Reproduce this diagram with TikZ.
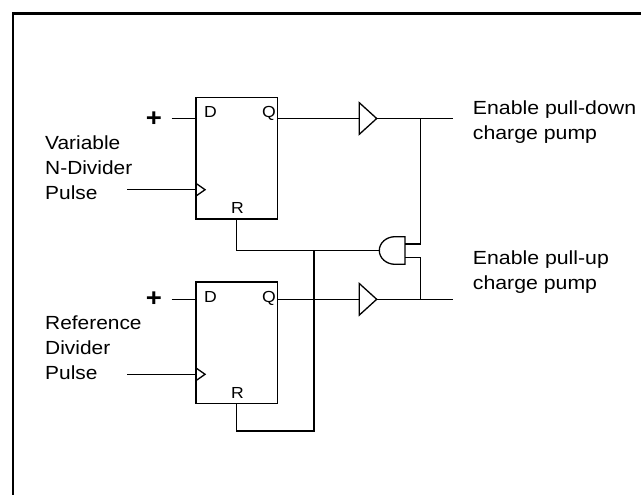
\documentclass[tikz,border=0pt]{standalone}
\usepackage{fontspec}
\setmainfont{Liberation Sans}
\newfontfamily\lbl[FakeStretch=1.1]{Liberation Sans}
\newfontfamily\lblr[FakeStretch=1.12]{Liberation Sans}
\begin{document}
\begin{tikzpicture}[x=1pt,y=-1pt,
  wire/.style={line width=1.3pt},
  frame/.style={line width=2.4pt},
  ffbox/.style={draw,line width=1.7pt,minimum width=81.3pt,minimum height=121.5pt,inner sep=0pt,outer sep=0pt},
  lab/.style={font=\lbl\fontsize{19}{25}\selectfont,anchor=base west,inner sep=0pt},
  labr/.style={font=\lblr\fontsize{19}{25}\selectfont,anchor=base west,inner sep=0pt},
  pinlab/.style={font=\lbl\fontsize{16}{18}\selectfont,inner sep=0pt},
  plus/.style={font=\lbl\bfseries\fontsize{25}{25}\selectfont,inner sep=0pt}]
\useasboundingbox (0,0) rectangle (641,495);
\draw[frame] (12.8,500) -- (12.8,13.5) -- (650,13.5);

% flip-flops
\node[ffbox] (ff1) at (236.7,158.3) {};
\node[ffbox] (ff2) at (236.7,342.8) {};
\node[pinlab,anchor=base west] (d1) at (204,117.3) {D};
\node[pinlab,anchor=base east] (q1) at (276,117.3) {Q};
\node[pinlab,anchor=base] (r1) at (237.5,213.3) {R};
\node[pinlab,anchor=base west] (d2) at (204,302.3) {D};
\node[pinlab,anchor=base east] (q2) at (276,302.3) {Q};
\node[pinlab,anchor=base] (r2) at (237.5,398.3) {R};

% inputs
\node[plus] (p1) at (154,119) {+};
\node[plus] (p2) at (154,299.5) {+};
\coordinate (din1) at (171.7,118.5);
\coordinate (din2) at (171.7,299.3);
\draw[wire] (din1) -- (din1 -| ff1.west);
\draw[wire] (din2) -- (din2 -| ff2.west);
\coordinate (clk1) at (127,189.7);
\coordinate (clk2) at (127,374.3);
\draw[wire] (clk1) -- (clk1 -| ff1.west);
\draw[wire] (clk2) -- (clk2 -| ff2.west);
\draw[wire] (clk1 -| ff1.west) ++(0,-6.3) -- ++(9,6.3) -- ++(-9,6.3);
\draw[wire] (clk2 -| ff2.west) ++(0,-6.3) -- ++(9,6.3) -- ++(-9,6.3);

% input labels
\node[lab] (v1) at (45,149.5) {Variable};
\node[lab] (v2) at (45,174.5) {N-Divider};
\node[lab] (v3) at (45,199.5) {Pulse};
\node[lab] (f1) at (45,329) {Reference};
\node[lab] (f2) at (45,354) {Divider};
\node[lab] (f3) at (45,379) {Pulse};

% buffers
\coordinate (b1in) at (359.3,118.5);
\coordinate (b1out) at (376.7,118.5);
\coordinate (b2in) at (359.3,299.3);
\coordinate (b2out) at (376.7,299.3);
\draw[wire] (b1in) ++(0,-15.8) -- (b1out) -- ++(-17.4,15.8) -- cycle;
\draw[wire] (b2in) ++(0,-15.8) -- (b2out) -- ++(-17.4,15.8) -- cycle;
\draw[wire] (ff1.east |- b1in) -- (b1in);
\draw[wire] (ff2.east |- b2in) -- (b2in);
\coordinate (o1) at (452.6,118.5);
\coordinate (o2) at (452.6,299.3);
\draw[wire] (b1out) -- (o1);
\draw[wire] (b2out) -- (o2);

% AND gate (facing left)
\coordinate (andtip) at (379.3,250.5);
\coordinate (andin1) at (405,244);
\coordinate (andin2) at (405,257.7);
\draw[wire] (405,236.7) -- (395,236.7)
  arc[start angle=270,end angle=90,x radius=15.7,y radius=13.8]
  -- (405,264.3) -- cycle;
\coordinate (tap1) at (420.7,118.5);
\coordinate (tap2) at (420.7,299.3);
\draw[wire] (andin1) -| (tap1);
\draw[wire] (andin2) -| (tap2);

% reset network
\coordinate (j) at (314,250.5);
\draw[wire] (ff1.south) |- (andtip);
\draw[wire] (ff2.south) -- ++(0,27.4) -| (j);

% output labels
\node[labr] (e1) at (472.7,115) {Enable pull-down};
\node[labr] (e2) at (472.7,140) {charge pump};
\node[labr] (e3) at (472.7,264) {Enable pull-up};
\node[labr] (e4) at (472.7,289) {charge pump};
\end{tikzpicture}
\end{document}
